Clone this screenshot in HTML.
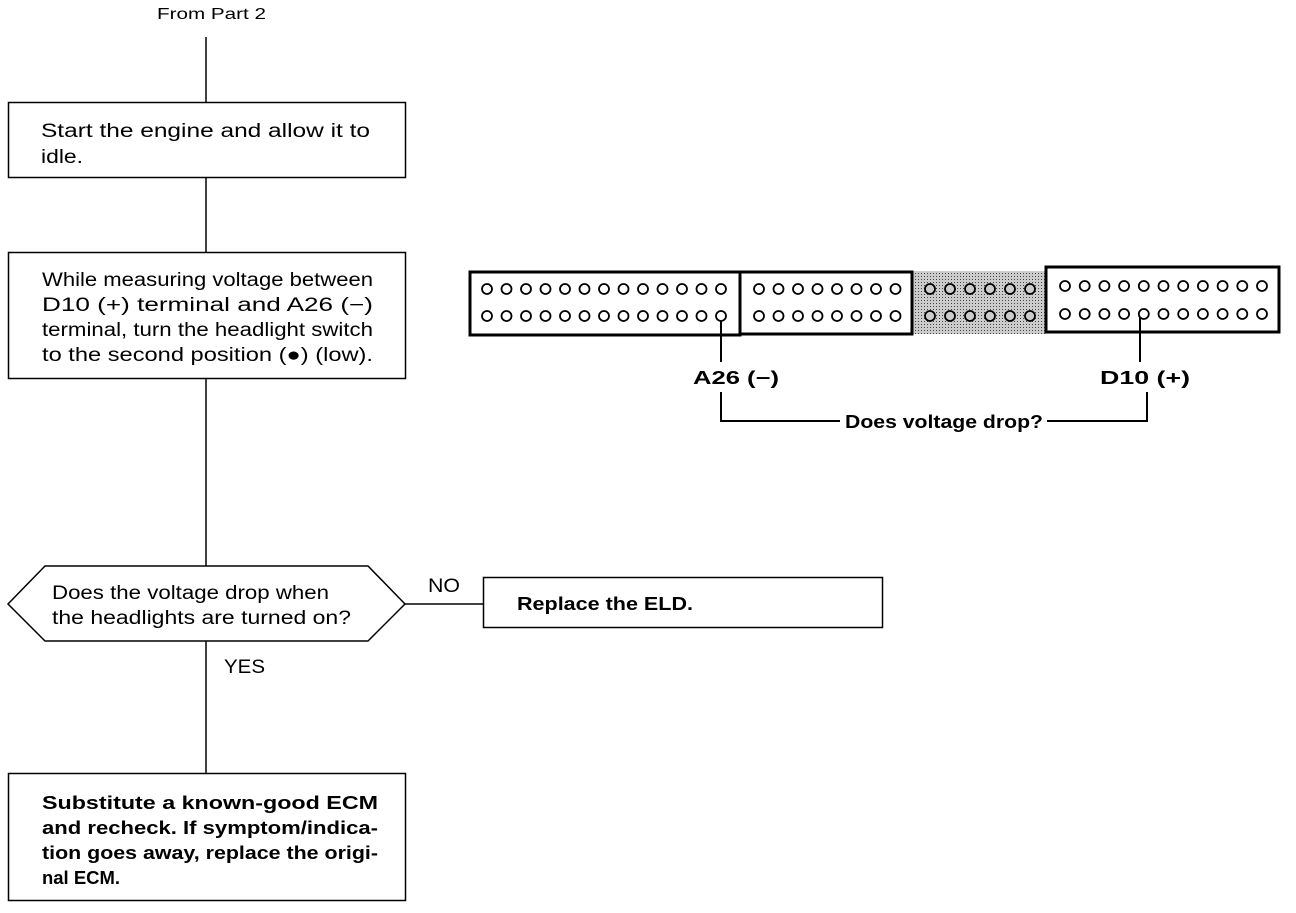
<!DOCTYPE html>
<html><head><style>body{margin:0;background:#fff}</style></head><body>
<svg width="1296" height="908" xmlns="http://www.w3.org/2000/svg" style="font-family:'Liberation Sans',sans-serif">
<defs><pattern id="p" width="3" height="3" patternUnits="userSpaceOnUse"><rect width="3" height="3" fill="#ccc"/><rect width="1" height="1" fill="#444"/></pattern></defs>
<g stroke="#000" stroke-width="1.5" fill="none">
<line x1="206" y1="37" x2="206" y2="102"/>
<rect x="8.5" y="102.5" width="397" height="75"/>
<line x1="206" y1="177" x2="206" y2="252"/>
<rect x="8.5" y="252.5" width="397" height="126"/>
<line x1="206" y1="378" x2="206" y2="566"/>
<polygon points="8,604 45,566 368,566 405,604 368,641 45,641"/>
<line x1="405" y1="604" x2="483" y2="604"/>
<rect x="483.5" y="577.5" width="399" height="50"/>
<line x1="206" y1="641" x2="206" y2="773"/>
<rect x="8.5" y="773.5" width="397" height="127"/>
</g>
<g font-size="19" fill="#000" lengthAdjust="spacingAndGlyphs">
<text x="157" y="19" font-size="16" textLength="109" lengthAdjust="spacingAndGlyphs">From Part 2</text>
<text x="41" y="137" textLength="329" lengthAdjust="spacingAndGlyphs">Start the engine and allow it to</text>
<text x="41" y="163" textLength="42" lengthAdjust="spacingAndGlyphs">idle.</text>
<text x="42" y="286" textLength="331" lengthAdjust="spacingAndGlyphs">While measuring voltage between</text>
<text x="42" y="311" textLength="331" lengthAdjust="spacingAndGlyphs">D10 (+) terminal and A26 (−)</text>
<text x="42" y="336" textLength="331" lengthAdjust="spacingAndGlyphs">terminal, turn the headlight switch</text>
<text x="42" y="361" textLength="331" lengthAdjust="spacingAndGlyphs">to the second position (●) (low).</text>
<text x="52" y="599" textLength="277" lengthAdjust="spacingAndGlyphs">Does the voltage drop when</text>
<text x="52" y="624" textLength="299" lengthAdjust="spacingAndGlyphs">the headlights are turned on?</text>
<text x="428" y="592" textLength="32" lengthAdjust="spacingAndGlyphs">NO</text>
<text x="224" y="673" textLength="41" lengthAdjust="spacingAndGlyphs">YES</text>
<g font-weight="bold" font-size="18">
<text x="517" y="610" textLength="176" lengthAdjust="spacingAndGlyphs">Replace the ELD.</text>
<text x="42" y="809" textLength="336" lengthAdjust="spacingAndGlyphs">Substitute a known-good ECM</text>
<text x="42" y="834" textLength="336" lengthAdjust="spacingAndGlyphs">and recheck. If symptom/indica-</text>
<text x="42" y="859" textLength="336" lengthAdjust="spacingAndGlyphs">tion goes away, replace the origi-</text>
<text x="42" y="884" textLength="78" lengthAdjust="spacingAndGlyphs">nal ECM.</text>
<text x="693" y="384" textLength="86" lengthAdjust="spacingAndGlyphs">A26 (−)</text>
<text x="1100" y="384" textLength="90" lengthAdjust="spacingAndGlyphs">D10 (+)</text>
<text x="845" y="428" textLength="198" lengthAdjust="spacingAndGlyphs">Does voltage drop?</text>
</g>
</g>
<rect x="912" y="271" width="134" height="63" fill="url(#p)"/>
<g stroke="#000" fill="none">
<rect x="470" y="272" width="270" height="63" stroke-width="3"/>
<rect x="740" y="272" width="172" height="62" stroke-width="3"/>
<rect x="1046" y="267" width="233" height="65" stroke-width="3"/>
<g stroke-width="2">
<line x1="721" y1="316" x2="721" y2="362"/>
<polyline points="721,392 721,421 840,421"/>
<polyline points="1047,421 1147,421 1147,392"/>
<line x1="1140" y1="316" x2="1140" y2="362"/>
</g>
</g>
<g stroke="#000" stroke-width="1.8" fill="#fff">
<g>
<circle cx="487" cy="289" r="5"/><circle cx="506.5" cy="289" r="5"/><circle cx="526" cy="289" r="5"/><circle cx="545.5" cy="289" r="5"/><circle cx="565" cy="289" r="5"/><circle cx="584.5" cy="289" r="5"/><circle cx="604" cy="289" r="5"/><circle cx="623.5" cy="289" r="5"/><circle cx="643" cy="289" r="5"/><circle cx="662.5" cy="289" r="5"/><circle cx="682" cy="289" r="5"/><circle cx="701.5" cy="289" r="5"/><circle cx="721" cy="289" r="5"/>
<circle cx="487" cy="316" r="5"/><circle cx="506.5" cy="316" r="5"/><circle cx="526" cy="316" r="5"/><circle cx="545.5" cy="316" r="5"/><circle cx="565" cy="316" r="5"/><circle cx="584.5" cy="316" r="5"/><circle cx="604" cy="316" r="5"/><circle cx="623.5" cy="316" r="5"/><circle cx="643" cy="316" r="5"/><circle cx="662.5" cy="316" r="5"/><circle cx="682" cy="316" r="5"/><circle cx="701.5" cy="316" r="5"/><circle cx="721" cy="316" r="5"/>
</g>
<g>
<circle cx="759" cy="289" r="5"/><circle cx="778.5" cy="289" r="5"/><circle cx="798" cy="289" r="5"/><circle cx="817.5" cy="289" r="5"/><circle cx="837" cy="289" r="5"/><circle cx="856.5" cy="289" r="5"/><circle cx="876" cy="289" r="5"/><circle cx="895.5" cy="289" r="5"/>
<circle cx="759" cy="316" r="5"/><circle cx="778.5" cy="316" r="5"/><circle cx="798" cy="316" r="5"/><circle cx="817.5" cy="316" r="5"/><circle cx="837" cy="316" r="5"/><circle cx="856.5" cy="316" r="5"/><circle cx="876" cy="316" r="5"/><circle cx="895.5" cy="316" r="5"/>
</g>
<g fill="#ccc">
<circle cx="930" cy="289" r="5"/><circle cx="950" cy="289" r="5"/><circle cx="970" cy="289" r="5"/><circle cx="990" cy="289" r="5"/><circle cx="1010" cy="289" r="5"/><circle cx="1030" cy="289" r="5"/>
<circle cx="930" cy="316" r="5"/><circle cx="950" cy="316" r="5"/><circle cx="970" cy="316" r="5"/><circle cx="990" cy="316" r="5"/><circle cx="1010" cy="316" r="5"/><circle cx="1030" cy="316" r="5"/>
</g>
<g>
<circle cx="1065" cy="286" r="5"/><circle cx="1084.7" cy="286" r="5"/><circle cx="1104.4" cy="286" r="5"/><circle cx="1124.1" cy="286" r="5"/><circle cx="1143.8" cy="286" r="5"/><circle cx="1163.5" cy="286" r="5"/><circle cx="1183.2" cy="286" r="5"/><circle cx="1202.9" cy="286" r="5"/><circle cx="1222.6" cy="286" r="5"/><circle cx="1242.3" cy="286" r="5"/><circle cx="1262" cy="286" r="5"/>
<circle cx="1065" cy="314" r="5"/><circle cx="1084.7" cy="314" r="5"/><circle cx="1104.4" cy="314" r="5"/><circle cx="1124.1" cy="314" r="5"/><circle cx="1143.8" cy="314" r="5"/><circle cx="1163.5" cy="314" r="5"/><circle cx="1183.2" cy="314" r="5"/><circle cx="1202.9" cy="314" r="5"/><circle cx="1222.6" cy="314" r="5"/><circle cx="1242.3" cy="314" r="5"/><circle cx="1262" cy="314" r="5"/>
</g>
</g>
</svg>
</body></html>
